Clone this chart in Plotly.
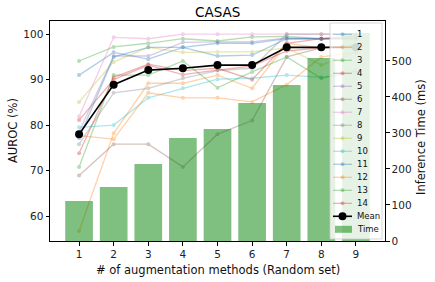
import plotly.graph_objects as go

x_vals = [1, 2, 3, 4, 5, 6, 7, 8, 9]

series_names = [str(i) for i in range(1, 15)]
series_values = [
    [91.0, 96.0, 94.5, 97.1, 95.2, 95.4, 99.0, 99.0, 99.5],
    [56.7, 78.2, 89.2, 89.2, 91.0, 88.1, 98.0, 97.0, 97.5],
    [94.1, 97.2, 98.0, 99.0, 98.5, 99.4, 99.5, 99.0, 99.6],
    [81.1, 90.0, 93.2, 91.1, 92.1, 93.0, 96.3, 97.0, 97.5],
    [78.5, 95.2, 95.2, 98.2, 98.3, 98.3, 99.2, 99.0, 99.3],
    [68.9, 75.8, 75.8, 70.8, 78.0, 81.0, 95.0, 97.0, 97.5],
    [81.9, 99.3, 99.0, 100.0, 100.0, 100.0, 100.0, 100.0, 100.0],
    [75.8, 87.1, 88.1, 90.3, 92.0, 92.5, 100.0, 100.0, 100.0],
    [85.1, 93.9, 97.1, 96.0, 96.1, 96.1, 97.0, 93.2, 96.0],
    [79.5, 80.0, 86.0, 88.1, 90.1, 90.3, 91.0, 90.5, 91.5],
    [77.1, 95.0, 97.1, 97.1, 98.0, 98.0, 99.0, 99.0, 99.0],
    [77.7, 76.9, 87.1, 86.0, 86.0, 85.1, 88.9, 95.0, 96.0],
    [70.8, 91.0, 91.0, 94.1, 88.2, 91.7, 95.0, 90.3, 92.0],
    [73.8, 90.5, 93.4, 92.0, 92.5, 90.0, 98.0, 99.0, 99.0],
]
mean_values = [78.0, 88.9, 92.1, 92.5, 93.2, 93.2, 97.1, 97.1, 97.1]
time_values = [111, 150, 214, 286, 311, 383, 433, 508, 578]

left_ticks = [60, 70, 80, 90, 100]
right_ticks = [0, 100, 200, 300, 400, 500]

title_text = 'CASAS'
x_title = '# of augmentation methods (Random set)'
y_title = 'AUROC (%)'
y2_title = 'Inference Time (ms)'

colors = ['#1f77b4', '#ff7f0e', '#2ca02c', '#d62728', '#9467bd',
          '#8c564b', '#e377c2', '#7f7f7f', '#bcbd22', '#17becf']
LINE_ALPHA = 0.35
BAR_COLOR = 'rgba(0,128,0,0.5)'

fig = go.Figure()
for i, (name, vals) in enumerate(zip(series_names, series_values)):
    c = colors[i % 10]
    fig.add_trace(go.Scatter(
        x=x_vals, y=vals, name=name, mode='lines+markers',
        line=dict(color=c, width=1.3), marker=dict(color=c, size=4),
        opacity=LINE_ALPHA, yaxis='y', showlegend=False))

fig.add_trace(go.Scatter(
    x=x_vals, y=mean_values, name='Mean', mode='lines+markers',
    line=dict(color='black', width=1.6), marker=dict(color='black', size=8),
    yaxis='y', showlegend=False))

fig.add_trace(go.Bar(
    x=x_vals, y=time_values, name='Time', width=0.8,
    marker=dict(color=BAR_COLOR, line=dict(width=0)),
    yaxis='y2', showlegend=False))

# ---- layout geometry (pixels) ----
W, H = 435, 282
ML, MR, MT, MB = 50, 50, 21, 41
PW, PH = W - ML - MR, H - MT - MB


def px(xp):
    return (xp - ML) / PW


def py(yp):
    return (H - MB - yp) / PH


shapes = []
annotations = []
# compact matplotlib-style legend
shapes.append(dict(type='rect', xref='paper', yref='paper',
                   x0=px(330), x1=px(382), y0=py(239), y1=py(23),
                   fillcolor='rgba(255,255,255,0.8)',
                   line=dict(color='rgba(204,204,204,0.8)', width=1), layer='above'))
labels = series_names + ['Mean', 'Time']
y0 = 34.3
step = 13.0
for k, lab in enumerate(labels):
    yy = y0 + k * step
    if k < 14:
        c = colors[k % 10]
        shapes.append(dict(type='line', xref='paper', yref='paper',
                           x0=px(333), x1=px(352), y0=py(yy), y1=py(yy),
                           line=dict(color=c, width=1.3), opacity=LINE_ALPHA, layer='above'))
        shapes.append(dict(type='circle', xref='paper', yref='paper',
                           x0=px(340.5), x1=px(344.5), y0=py(yy + 2), y1=py(yy - 2),
                           fillcolor=c, line=dict(width=0), opacity=LINE_ALPHA, layer='above'))
    elif lab == 'Mean':
        shapes.append(dict(type='line', xref='paper', yref='paper',
                           x0=px(333), x1=px(352), y0=py(yy), y1=py(yy),
                           line=dict(color='black', width=1.6), layer='above'))
        shapes.append(dict(type='circle', xref='paper', yref='paper',
                           x0=px(338.5), x1=px(346.5), y0=py(yy + 4), y1=py(yy - 4),
                           fillcolor='black', line=dict(width=0), layer='above'))
    else:
        shapes.append(dict(type='rect', xref='paper', yref='paper',
                           x0=px(335), x1=px(352), y0=py(yy + 3.5), y1=py(yy - 3.5),
                           fillcolor=BAR_COLOR, line=dict(width=0), layer='above'))
    annotations.append(dict(text=lab, xref='paper', yref='paper', x=px(355), y=py(yy),
                            xanchor='left', yanchor='middle', showarrow=False,
                            font=dict(size=8.5, color='#111')))

# titles
annotations.append(dict(text=title_text, xref='paper', yref='paper', x=px(217.5), y=py(12),
                        xanchor='center', yanchor='middle', showarrow=False,
                        font=dict(size=13.5, color='black')))
annotations.append(dict(text=x_title, xref='paper', yref='paper', x=px(217.5), y=py(270),
                        xanchor='center', yanchor='middle', showarrow=False,
                        font=dict(size=11.5, color='#111')))
annotations.append(dict(text=y_title, xref='paper', yref='paper', x=px(13), y=py(131),
                        xanchor='center', yanchor='middle', showarrow=False, textangle=-90,
                        font=dict(size=11.5, color='#111')))
annotations.append(dict(text=y2_title, xref='paper', yref='paper', x=px(421), y=py(137),
                        xanchor='center', yanchor='middle', showarrow=False, textangle=-90,
                        font=dict(size=11.5, color='#111')))

fig.update_layout(
    width=W, height=H,
    margin=dict(l=ML, r=MR, t=MT, b=MB, autoexpand=False),
    paper_bgcolor='white', plot_bgcolor='white',
    font=dict(family="DejaVu Sans", size=10.5, color='#222'),
    showlegend=False,
    shapes=shapes, annotations=annotations,
    xaxis=dict(range=[0.16, 9.84], tickvals=x_vals, showgrid=False, zeroline=False,
               showline=True, linecolor='black', linewidth=1, mirror=True,
               ticks='outside', ticklen=3.5, tickcolor='black', automargin=False),
    yaxis=dict(range=[54.5, 102.9], tickvals=left_ticks, showgrid=False, zeroline=False,
               showline=True, linecolor='black', linewidth=1, mirror=True,
               ticks='outside', ticklen=3.5, tickcolor='black', automargin=False),
    yaxis2=dict(range=[0, 611], tickvals=right_ticks, overlaying='y', side='right',
                showgrid=False, zeroline=False, showline=True, linecolor='black',
                ticks='outside', ticklen=3.5, tickcolor='black', automargin=False),
    bargap=0.2,
)

fig.write_html("out.html", config={'displayModeBar': False},
               post_script="document.body.style.margin='0';")
